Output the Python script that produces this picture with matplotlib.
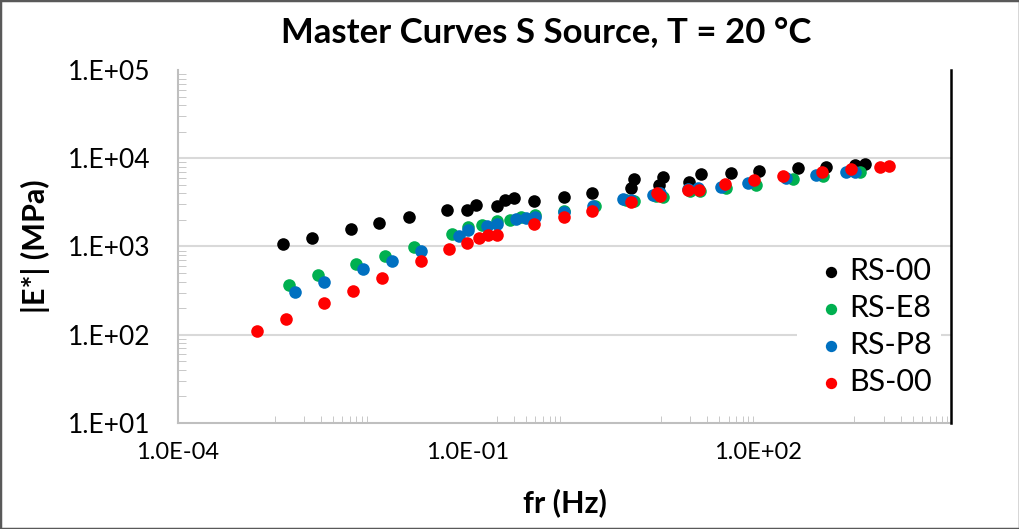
import matplotlib
matplotlib.use('Agg')
import matplotlib.pyplot as plt
from matplotlib.ticker import FixedLocator, NullFormatter
from matplotlib.patches import Rectangle

plt.rcParams['font.family'] = ['Lato', 'DejaVu Sans']

# data (fr in Hz, |E*| in MPa)
rs00_f = [1.21e-3, 2.43e-3, 6.11e-3, 1.21e-2, 2.43e-2, 6.05e-2, 9.82e-2, 0.121, 0.198, 0.245,
          0.303, 0.489, 0.982, 1.94, 4.92, 5.23, 9.49, 10.4, 19.2, 25.6, 52.4, 102.6, 260, 511, 1026, 1282]
rs00_e = [1059, 1259, 1578, 1862, 2160, 2592, 2592, 2976, 2855, 3390,
          3547, 3278, 3638, 4008, 4565, 5775, 4977, 6180, 5341, 6577, 6858, 7227, 7695, 8020, 8385, 8540]

rse8_f = [1.41e-3, 2.79e-3, 6.94e-3, 1.39e-2, 2.78e-2, 6.93e-2, 9.91e-2, 0.140, 0.198, 0.276,
          0.352, 0.492, 0.982, 2.05, 4.30, 5.20, 8.77, 10.4, 19.7, 25.0, 46.5, 94.9, 229, 468, 1130]
rse8_e = [366, 472, 638, 774, 979, 1396, 1677, 1753, 1945, 2012,
          2142, 2275, 2523, 2876, 3365, 3278, 3733, 3638, 4254, 4254, 4603, 4977, 5743, 6295, 6987]

rsp8_f = [1.62e-3, 3.26e-3, 8.13e-3, 1.62e-2, 3.24e-2, 8.05e-2, 9.91e-2, 0.158, 0.200, 0.318,
          0.404, 0.492, 0.982, 1.97, 4.03, 4.92, 8.22, 9.64, 18.9, 24.0, 41.2, 79.0, 197, 403, 822, 1003]
rsp8_e = [307, 396, 552, 680, 896, 1325, 1538, 1708, 1786, 2034,
          2120, 2177, 2479, 2900, 3427, 3365, 3834, 4008, 4448, 4565, 4760, 5284, 6023, 6457, 6929, 7039]

bs00_f = [6.52e-4, 1.31e-3, 3.26e-3, 6.50e-3, 1.30e-2, 3.24e-2, 6.40e-2, 9.82e-2, 0.129, 0.162,
          0.198, 0.489, 0.982, 1.94, 4.92, 9.06, 9.82, 18.9, 24.6, 45.4, 91.2, 182, 460, 912, 1820, 2307]
bs00_e = [110, 150, 227, 316, 443, 690, 937, 1087, 1239, 1340,
          1361, 1799, 2142, 2545, 3192, 4008, 3733, 4365, 4365, 5070, 5669, 6295, 6929, 7496, 8020, 8235]

series = [('RS-00', rs00_f, rs00_e, '#000000'),
          ('RS-E8', rse8_f, rse8_e, '#00B050'),
          ('RS-P8', rsp8_f, rsp8_e, '#0070C0'),
          ('BS-00', bs00_f, bs00_e, '#FF0000')]

xticks = [1e-4, 1e-1, 1e2]
xlabels = ['1.0E-04', '1.0E-01', '1.0E+02']
yticks = [1e1, 1e2, 1e3, 1e4, 1e5]
ylabels = ['1.E+01', '1.E+02', '1.E+03', '1.E+04', '1.E+05']

fig = plt.figure(figsize=(10.2, 5.29), dpi=100)
ax = fig.add_axes([0.1745, 0.2004, 0.7579, 0.6673])

for name, f, e, c in series:
    ax.scatter(f, e, s=82, color=c, label=name, linewidths=0, zorder=3)

ax.set_xscale('log')
ax.set_yscale('log')
ax.set_xlim(1e-4, 1e4)
ax.set_ylim(1e1, 1e5)

ax.xaxis.set_major_locator(FixedLocator(xticks))
ax.set_xticklabels(xlabels)
xminor = [k * 10.0 ** m for m in (-3, -1, 1, 3) for k in range(1, 10)]
ax.xaxis.set_minor_locator(FixedLocator(xminor))
ax.xaxis.set_minor_formatter(NullFormatter())

ax.yaxis.set_major_locator(FixedLocator(yticks))
ax.set_yticklabels(ylabels)
yminor = [k * 10.0 ** m for m in range(1, 5) for k in range(2, 10)]
ax.yaxis.set_minor_locator(FixedLocator(yminor))
ax.yaxis.set_minor_formatter(NullFormatter())

ax.tick_params(axis='both', which='both', direction='in', color='#BFBFBF', labelcolor='black')
ax.tick_params(axis='x', which='major', length=0, pad=14, labelsize=17)
ax.tick_params(axis='x', which='minor', length=5)
ax.tick_params(axis='y', which='major', length=0, pad=20, labelsize=19)
ax.tick_params(axis='y', which='minor', length=6)

ax.grid(axis='y', which='major', color='#D9D9D9', linewidth=1.5, zorder=0)
gl = ax.yaxis.get_gridlines()
gl[0].set_visible(False)
gl[-1].set_visible(False)

for s in ('left', 'bottom'):
    ax.spines[s].set_color('#BFBFBF')
    ax.spines[s].set_linewidth(1.5)
ax.spines['top'].set_visible(False)
ax.spines['right'].set_color('black')
ax.spines['right'].set_linewidth(1.8)
ax.spines['right'].set_zorder(6)

ax.set_xlabel('fr (Hz)', fontsize=22, fontweight='bold')
ax.set_ylabel('|E*| (MPa)', fontsize=22, fontweight='bold')
ax.xaxis.set_label_coords(0.5, -0.184)
ax.yaxis.set_label_coords(-0.166, 0.5)

fig.text(546 / 1020, 1 - 32 / 529, 'Master Curves S Source, T = 20 °C',
         ha='center', va='center', fontsize=25, fontweight='bold')

leg = ax.legend(loc='upper left', bbox_to_anchor=(797 / 1020, 1 - 248 / 529),
                bbox_transform=fig.transFigure, fontsize=22, frameon=True,
                facecolor='white', edgecolor='none', framealpha=1, fancybox=False,
                handletextpad=-0.2, labelspacing=0.29, borderpad=0.3, handlelength=1.6,
                markerscale=0.9, borderaxespad=0)
leg.set_zorder(5)

fig.patches.append(Rectangle((0, 0), 1, 1, transform=fig.transFigure, fill=False,
                             edgecolor='#595959', linewidth=2.5))

fig.savefig('out.png', dpi=100)
